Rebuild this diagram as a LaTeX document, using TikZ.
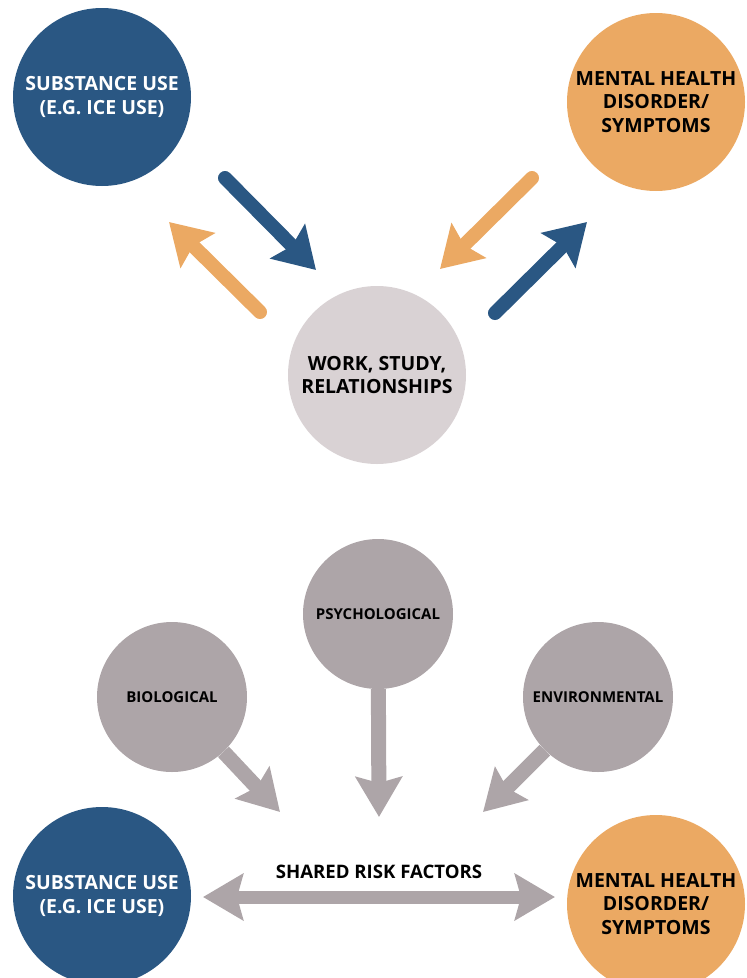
\documentclass[tikz,border=0pt]{standalone}
\usepackage{fontspec}
\setmainfont{Open Sans}
\usepackage{xcolor}
\usetikzlibrary{positioning, arrows.meta}

\definecolor{useblue}{HTML}{2A5783}
\definecolor{mhorange}{HTML}{EBA963}
\definecolor{lifegray}{HTML}{D9D2D4}
\definecolor{riskgray}{HTML}{ADA5A8}

\tikzset{
    bigcircle/.style={circle, minimum size=178pt, inner sep=0pt, align=center,
        font=\bfseries\fontsize{19.5}{23.5}\selectfont},
    riskcircle/.style={circle, fill=riskgray, minimum size=150pt, inner sep=0pt,
        align=center, font=\bfseries\fontsize{15}{18}\selectfont},
    bigarrow/.style={line width=14pt, line cap=round,
        -{Stealth[length=40pt, width=48pt, inset=6pt]}},
    riskarrow/.style={line width=15pt, riskgray,
        -{Stealth[length=40pt, width=46pt, inset=6pt]}},
}

\begin{document}
\begin{tikzpicture}[x=1pt, y=-1pt]
\useasboundingbox (0,0) rectangle (747,978);

% Top: two-way links through daily life
\node[bigcircle, fill=useblue, text=white] (use-top) at (102,97) {SUBSTANCE USE\\(E.G. ICE USE)};
\node[bigcircle, fill=mhorange, text=black] (mh-top) at (656,102) {MENTAL HEALTH\\DISORDER/\\SYMPTOMS};
\node[bigcircle, fill=lifegray, text=black] (life) at (377,375) {WORK, STUDY,\\RELATIONSHIPS};

\coordinate (a1) at (225,178);  \coordinate (b1) at (316,270);
\coordinate (a2) at (260,312);  \coordinate (b2) at (169,222);
\coordinate (a3) at (532,178);  \coordinate (b3) at (440,269);
\coordinate (a4) at (495,313);  \coordinate (b4) at (587,222);

\draw[bigarrow, useblue] (a1) -- (b1);
\draw[bigarrow, mhorange] (a2) -- (b2);
\draw[bigarrow, mhorange] (a3) -- (b3);
\draw[bigarrow, useblue] (a4) -- (b4);

% Bottom: shared risk factors
\node[riskcircle] (psy) at (378,614) {PSYCHOLOGICAL};
\node[riskcircle] (bio) at (172,697) {BIOLOGICAL};
\node[riskcircle] (env) at (598,697) {ENVIRONMENTAL};

\node[bigcircle, fill=useblue, text=white] (use-bot) at (102,896) {SUBSTANCE USE\\(E.G. ICE USE)};
\node[bigcircle, fill=mhorange, text=black] (mh-bot) at (656,904) {MENTAL HEALTH\\DISORDER/\\SYMPTOMS};

\coordinate (bio-tip) at (280,812);
\coordinate (psy-tip) at (379,817);
\coordinate (env-tip) at (483,812);
\coordinate (left-tip) at (203,897);
\coordinate (right-tip) at (555,897);

\draw[riskarrow] (bio) -- (bio-tip);
\draw[riskarrow] (psy) -- (psy-tip);
\draw[riskarrow] (env) -- (env-tip);
\draw[riskarrow, line width=13pt, {Stealth[length=40pt, width=46pt, inset=6pt]}-{Stealth[length=40pt, width=46pt, inset=6pt]}] (left-tip) -- (right-tip)
    node[midway, above=8pt, text=black, font=\bfseries\fontsize{18.6}{20}\selectfont] (shared) {SHARED RISK FACTORS};

\end{tikzpicture}
\end{document}
